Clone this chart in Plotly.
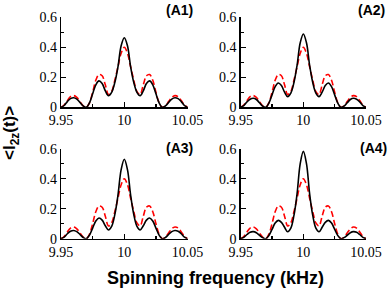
import plotly.graph_objects as go

# Spinning frequency samples (kHz)
freq = [9.95, 9.9525, 9.955, 9.9575, 9.96, 9.9625, 9.965, 9.9675, 9.97, 9.9725,
        9.975, 9.9775, 9.98, 9.9825, 9.985, 9.9875, 9.99, 9.9925, 9.995, 9.9975,
        10.0, 10.0025, 10.005, 10.0075, 10.01, 10.0125, 10.015, 10.0175, 10.02, 10.0225,
        10.025, 10.0275, 10.03, 10.0325, 10.035, 10.0375, 10.04, 10.0425, 10.045, 10.0475,
        10.05]

# Red dashed reference curve (same in every panel)
red_ref = [0, 0.015, 0.045, 0.071, 0.078, 0.066, 0.038, 0.010, 0, 0.03,
           0.10, 0.18, 0.218, 0.21, 0.15, 0.085, 0.105, 0.18, 0.27, 0.36,
           0.40, 0.36, 0.27, 0.18, 0.105, 0.085, 0.15, 0.21, 0.218, 0.18,
           0.10, 0.03, 0, 0.010, 0.038, 0.066, 0.078, 0.071, 0.045, 0.015, 0]

black_A1 = [0, 0.012, 0.038, 0.058, 0.064, 0.055, 0.032, 0.009, 0, 0.03,
            0.09, 0.15, 0.176, 0.158, 0.11, 0.077, 0.10, 0.165, 0.27, 0.41,
            0.464, 0.41, 0.27, 0.165, 0.10, 0.077, 0.11, 0.158, 0.176, 0.15,
            0.09, 0.03, 0, 0.009, 0.032, 0.055, 0.064, 0.058, 0.038, 0.012, 0]

black_A2 = [0, 0.011, 0.036, 0.054, 0.060, 0.052, 0.030, 0.008, 0, 0.028,
            0.083, 0.138, 0.162, 0.145, 0.101, 0.071, 0.095, 0.165, 0.28, 0.43,
            0.489, 0.43, 0.28, 0.165, 0.095, 0.071, 0.101, 0.145, 0.162, 0.138,
            0.083, 0.028, 0, 0.008, 0.030, 0.052, 0.060, 0.054, 0.036, 0.011, 0]

black_A3 = [0, 0.010, 0.033, 0.050, 0.055, 0.047, 0.028, 0.008, 0, 0.024,
            0.071, 0.118, 0.138, 0.124, 0.086, 0.058, 0.082, 0.16, 0.29, 0.46,
            0.53, 0.46, 0.29, 0.16, 0.082, 0.058, 0.086, 0.124, 0.138, 0.118,
            0.071, 0.024, 0, 0.008, 0.028, 0.047, 0.055, 0.050, 0.033, 0.010, 0]

black_A4 = [0, 0.009, 0.028, 0.043, 0.047, 0.040, 0.023, 0.007, 0, 0.021,
            0.062, 0.104, 0.122, 0.109, 0.076, 0.046, 0.07, 0.155, 0.30, 0.50,
            0.582, 0.50, 0.30, 0.155, 0.07, 0.046, 0.076, 0.109, 0.122, 0.104,
            0.062, 0.021, 0, 0.007, 0.023, 0.040, 0.047, 0.043, 0.028, 0.009, 0]

panel_labels = ["(A1)", "(A2)", "(A3)", "(A4)"]
black_series = [black_A1, black_A2, black_A3, black_A4]

x_ticks = [9.95, 10.0, 10.05]
x_ticktext = ["9.95", "10", "10.05"]
y_ticks = [0, 0.2, 0.4, 0.6]
y_ticktext = ["0", "0.2", "0.4", "0.6"]

W, H = 392, 293
x_domains = [[61 / W, 187.6 / W], [240.7 / W, 366 / W]]
y_domains = [[1 - 107.3 / H, 1 - 17.3 / H], [1 - 238.7 / H, 1 - 148.7 / H]]

SERIF = "Liberation Serif"
fig = go.Figure()

for i in range(4):
    row, col = divmod(i, 2)
    n = "" if i == 0 else str(i + 1)
    xa, ya = "x" + n, "y" + n
    fig.add_trace(go.Scatter(x=freq, y=red_ref, mode="lines", xaxis=xa, yaxis=ya,
                             line=dict(color="#ff0000", width=1.6, dash="6px,3px", shape="spline"),
                             showlegend=False, hoverinfo="skip"))
    fig.add_trace(go.Scatter(x=freq, y=black_series[i], mode="lines", xaxis=xa, yaxis=ya,
                             line=dict(color="black", width=1.6, shape="spline"),
                             showlegend=False, hoverinfo="skip"))
    fig.layout["xaxis" + n] = dict(
        domain=x_domains[col], anchor=ya, range=[9.95, 10.05], automargin=False,
        showline=True, linecolor="black", linewidth=1.3, mirror=False,
        showgrid=False, zeroline=False,
        ticks="inside", ticklen=5, tickwidth=1.3, tickcolor="black",
        tickvals=x_ticks, ticktext=x_ticktext,
        minor=dict(ticks="inside", ticklen=3, tickwidth=1.3, tickcolor="black",
                   tickvals=[9.975, 10.025], showgrid=False),
    )
    fig.layout["yaxis" + n] = dict(
        domain=y_domains[row], anchor=xa, range=[0, 0.6], automargin=False,
        showline=True, linecolor="black", linewidth=1.3,
        showgrid=False, zeroline=False,
        ticks="inside", ticklen=5, tickwidth=1.3, tickcolor="black",
        tickvals=y_ticks, ticktext=y_ticktext,
        minor=dict(ticks="inside", ticklen=3, tickwidth=1.3, tickcolor="black",
                   tickvals=[0.1, 0.3, 0.5], showgrid=False),
    )

fig.update_xaxes(tickfont=dict(family=SERIF, size=14, color="black"))
fig.update_yaxes(tickfont=dict(family=SERIF, size=14, color="black"))

label_pos = [(195, 10), (387, 10), (195, 148), (389, 148)]
annotations = []
for (px, py), txt in zip(label_pos, panel_labels):
    annotations.append(dict(x=px / W, y=1 - py / H, xref="paper", yref="paper",
                            text=txt, showarrow=False, xanchor="right", yanchor="middle",
                            font=dict(family="Liberation Sans", size=14, color="black", weight="bold")))

annotations.append(dict(x=216 / W, y=1 - 278 / H, xref="paper", yref="paper",
                        text="Spinning frequency (kHz)", showarrow=False,
                        xanchor="center", yanchor="middle",
                        font=dict(family="Liberation Sans", size=18, color="black", weight="bold")))
annotations.append(dict(x=11 / W, y=1 - 133 / H, xref="paper", yref="paper",
                        text="&lt;I<sub>2z</sub>(t)&gt;", showarrow=False, textangle=-90,
                        xanchor="center", yanchor="middle",
                        font=dict(family="Liberation Sans", size=17, color="black", weight="bold")))

fig.update_layout(width=W, height=H, margin=dict(l=0, r=0, t=0, b=0),
                  template="none",
                  font=dict(family=SERIF, size=14, color="black"),
                  paper_bgcolor="white", plot_bgcolor="white",
                  annotations=annotations, autosize=False)

fig.write_html("out.html", config={"displayModeBar": False, "staticPlot": True},
               post_script="document.body.style.margin='0px';document.body.style.overflow='hidden';")
